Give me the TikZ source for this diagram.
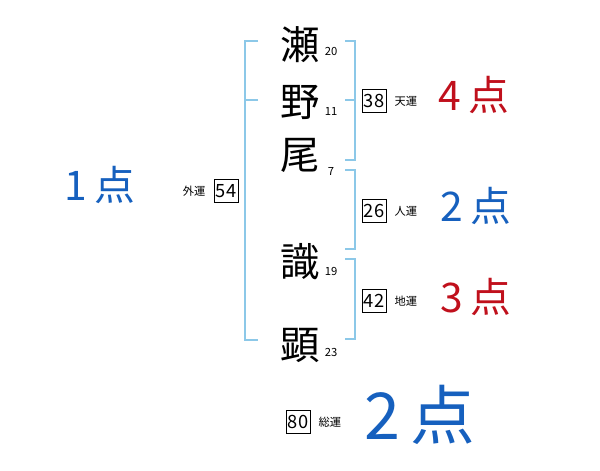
\documentclass[tikz,border=0pt]{standalone}
\usepackage{fontspec}
\setmainfont{Noto Sans CJK JP}
\usetikzlibrary{positioning}

\definecolor{bracketblue}{HTML}{8CC8E8}
\definecolor{scoreblue}{HTML}{1660BE}
\definecolor{scorered}{HTML}{C0101C}

\begin{document}
\begin{tikzpicture}[
    x=0.025cm, y=-0.025cm,
    kanji/.style={font=\fontsize{28}{28}\selectfont, inner sep=0pt},
    stroke/.style={font=\fontsize{8}{8}\selectfont, inner sep=0pt},
    unbox/.style={draw, thin, font=\fontsize{13}{13}\selectfont, inner sep=0pt, minimum width=0.6cm, minimum height=0.57cm},
    unlabel/.style={font=\fontsize{8}{8}\selectfont, inner sep=0pt},
    score/.style={font=\fontsize{29}{29}\selectfont, inner sep=0pt},
    bracket/.style={draw=bracketblue, line width=1.2pt}
  ]
    \useasboundingbox (0,0) rectangle (600,470);

    % name characters with stroke counts
    \node[kanji] (c1) at (300,45) {瀬};
    \node[kanji] (c2) at (300,102) {野};
    \node[kanji] (c3) at (300,155) {尾};
    \node[kanji] (c4) at (300,262) {識};
    \node[kanji] (c5) at (300,345) {顕};
    \node[stroke] (s1) at (331,51) {20};
    \node[stroke] (s2) at (331,111) {11};
    \node[stroke] (s3) at (331,171) {7};
    \node[stroke] (s4) at (331,271) {19};
    \node[stroke] (s5) at (331,352) {23};

    % bracket corners
    \coordinate (lt) at (258,41);
    \coordinate (lm) at (258,100);
    \coordinate (lb) at (258,340);
    \coordinate (at) at (345,41);
    \coordinate (am) at (345,100);
    \coordinate (ab) at (345,160);
    \coordinate (bt) at (345,170);
    \coordinate (bb) at (345,249);
    \coordinate (ct) at (345,259);
    \coordinate (cb) at (345,339);

    \draw[bracket] (lt) -- ++(-13,0) |- (lb);
    \draw[bracket] (lm) -- ++(-13,0);
    \draw[bracket] (at) -- ++(10,0) |- (ab);
    \draw[bracket] (am) -- ++(10,0);
    \draw[bracket] (bt) -- ++(10,0) |- (bb);
    \draw[bracket] (ct) -- ++(10,0) |- (cb);

    % fortune boxes
    \node[unbox] (ten) at (374,101) {38};
    \node[unlabel, right=0.2cm of ten] (ten_label) {天運};
    \node[unbox] (jin) at (374,211) {26};
    \node[unlabel, right=0.2cm of jin] (jin_label) {人運};
    \node[unbox] (chi) at (374,301) {42};
    \node[unlabel, right=0.2cm of chi] (chi_label) {地運};
    \node[unbox] (gai) at (226,191) {54};
    \node[unlabel, left=0.2cm of gai] (gai_label) {外運};
    \node[unbox] (sou) at (298,422) {80};
    \node[unlabel, right=0.2cm of sou] (sou_label) {総運};

    % scores
    \node[score, scoreblue] (gai_score) at (100,185) {1\,点};
    \node[score, scorered] (ten_score) at (474,95) {4\,点};
    \node[score, scoreblue] (jin_score) at (476,206) {2\,点};
    \node[score, scorered] (chi_score) at (476,297) {3\,点};
    \node[font=\fontsize{46}{46}\selectfont, inner sep=0pt, scoreblue] (sou_score) at (420,415) {2\,点};
  \end{tikzpicture}
\end{document}
